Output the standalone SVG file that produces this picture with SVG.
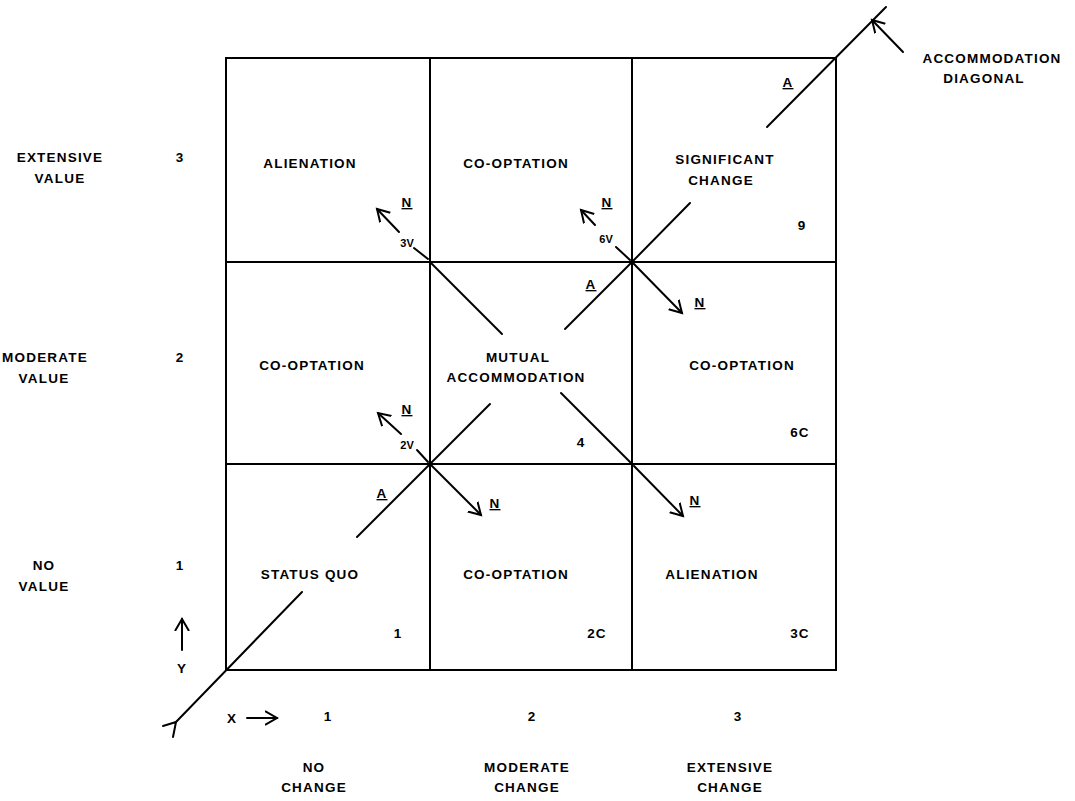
<svg xmlns="http://www.w3.org/2000/svg" width="1075" height="801" viewBox="0 0 1075 801">
<defs>
<style>
.ln{stroke:#000;stroke-width:2;fill:none;stroke-linecap:round}
.t{font-family:"Liberation Sans",Arial,sans-serif;font-weight:bold;font-size:13.5px;letter-spacing:1.2px;fill:#000;text-anchor:middle}
.s{font-family:"Liberation Sans",Arial,sans-serif;font-weight:bold;font-size:11px;fill:#000;text-anchor:middle}
.u{text-decoration:underline}
</style>
<marker id="ah" markerUnits="userSpaceOnUse" markerWidth="20" markerHeight="20" refX="12" refY="10" orient="auto">
<path d="M0,3 L12,10 L0,17" fill="none" stroke="#000" stroke-width="2"/>
</marker>
</defs>
<rect width="1075" height="801" fill="#fff"/>
<g id="grid">
<rect class="ln" x="226" y="58" width="610" height="612"/>
<line class="ln" x1="430" y1="58" x2="430" y2="670"/>
<line class="ln" x1="632" y1="58" x2="632" y2="670"/>
<line class="ln" x1="226" y1="262" x2="836" y2="262"/>
<line class="ln" x1="226" y1="464" x2="836" y2="464"/>
</g>
<g id="connectors">
<line class="ln" x1="176" y1="722" x2="302" y2="592"/>
<path class="ln" d="M163,726 L176,722 L173,737"/>
<line class="ln" x1="357" y1="537" x2="430" y2="464"/>
<line class="ln" x1="430" y1="464" x2="490" y2="404"/>
<line class="ln" x1="565" y1="329" x2="632" y2="262"/>
<line class="ln" x1="632" y1="262" x2="690" y2="203"/>
<line class="ln" x1="767" y1="127" x2="886" y2="7"/>
<line class="ln" x1="903" y1="52" x2="872" y2="20" marker-end="url(#ah)"/>
<line class="ln" x1="430" y1="262" x2="502" y2="334"/>
<line class="ln" x1="561" y1="393" x2="632" y2="464"/>
<line class="ln" x1="428" y1="259" x2="414" y2="248"/>
<line class="ln" x1="399" y1="232" x2="377" y2="209" marker-end="url(#ah)"/>
<line class="ln" x1="630" y1="260" x2="616" y2="247"/>
<line class="ln" x1="595" y1="225" x2="581" y2="210" marker-end="url(#ah)"/>
<line class="ln" x1="428" y1="462" x2="417" y2="450"/>
<line class="ln" x1="401" y1="434" x2="378" y2="413" marker-end="url(#ah)"/>
<line class="ln" x1="632" y1="262" x2="682" y2="313" marker-end="url(#ah)"/>
<line class="ln" x1="430" y1="464" x2="481" y2="515" marker-end="url(#ah)"/>
<line class="ln" x1="634" y1="466" x2="683" y2="516" marker-end="url(#ah)"/>
<line class="ln" x1="182" y1="650" x2="182" y2="619" marker-end="url(#ah)"/>
<line class="ln" x1="247" y1="718" x2="277" y2="718" marker-end="url(#ah)"/>
</g>
<g id="diagonal-label">
<text class="t" x="992" y="63">ACCOMMODATION</text>
<text class="t" x="984" y="83">DIAGONAL</text>
</g>
<g id="flow-labels">
<text class="t u" x="788" y="87">A</text>
<text class="t u" x="591" y="289">A</text>
<text class="t u" x="382" y="498">A</text>
<text class="t u" x="407" y="207">N</text>
<text class="t u" x="607" y="207">N</text>
<text class="t u" x="407" y="414">N</text>
<text class="t u" x="700" y="307">N</text>
<text class="t u" x="495" y="508">N</text>
<text class="t u" x="695" y="505">N</text>
<text class="s" x="407" y="247">3V</text>
<text class="s" x="606" y="243">6V</text>
<text class="s" x="407" y="449">2V</text>
</g>
<g id="cell-3V"><text class="t" x="310" y="168">ALIENATION</text></g>
<g id="cell-6V"><text class="t" x="516" y="168">CO-OPTATION</text></g>
<g id="cell-9"><text class="t" x="725" y="164">SIGNIFICANT</text><text class="t" x="721" y="185">CHANGE</text><text class="t" x="802" y="230">9</text></g>
<g id="cell-2V"><text class="t" x="312" y="370">CO-OPTATION</text></g>
<g id="cell-4"><text class="t" x="518" y="362">MUTUAL</text><text class="t" x="516" y="382">ACCOMMODATION</text><text class="t" x="581" y="447">4</text></g>
<g id="cell-6C"><text class="t" x="742" y="370">CO-OPTATION</text><text class="t" x="800" y="437">6C</text></g>
<g id="cell-1"><text class="t" x="310" y="579">STATUS QUO</text><text class="t" x="398" y="638">1</text></g>
<g id="cell-2C"><text class="t" x="516" y="579">CO-OPTATION</text><text class="t" x="597" y="638">2C</text></g>
<g id="cell-3C"><text class="t" x="712" y="579">ALIENATION</text><text class="t" x="800" y="638">3C</text></g>
<g id="y-axis">
<text class="t" x="60" y="162">EXTENSIVE</text><text class="t" x="60" y="183">VALUE</text><text class="t" x="180" y="162">3</text>
<text class="t" x="45" y="362">MODERATE</text><text class="t" x="44" y="383">VALUE</text><text class="t" x="180" y="362">2</text>
<text class="t" x="44" y="570">NO</text><text class="t" x="44" y="591">VALUE</text><text class="t" x="180" y="570">1</text>
<text class="t" x="182" y="673">Y</text>
</g>
<g id="x-axis">
<text class="t" x="232" y="723">X</text>
<text class="t" x="328" y="721">1</text><text class="t" x="532" y="721">2</text><text class="t" x="738" y="721">3</text>
<text class="t" x="314" y="772">NO</text><text class="t" x="314" y="792">CHANGE</text>
<text class="t" x="527" y="772">MODERATE</text><text class="t" x="527" y="792">CHANGE</text>
<text class="t" x="730" y="772">EXTENSIVE</text><text class="t" x="730" y="792">CHANGE</text>
</g>
</svg>
